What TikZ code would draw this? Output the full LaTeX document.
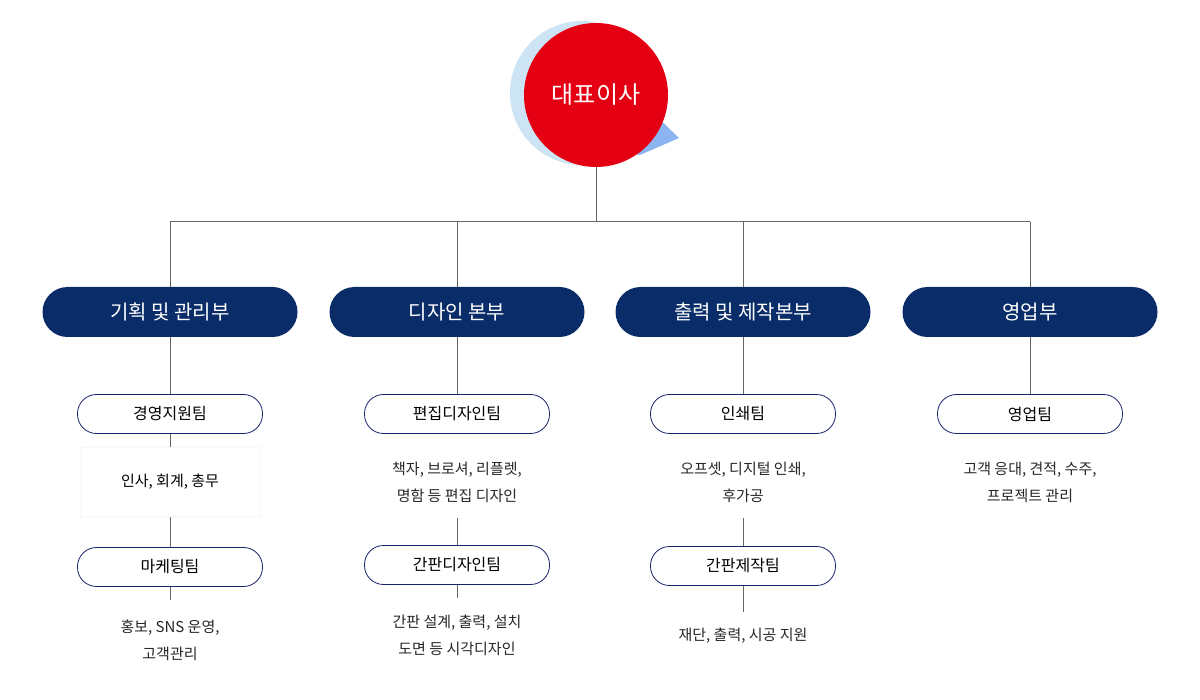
\documentclass[tikz,border=0pt]{standalone}
\usepackage{fontspec}
\setmainfont{Noto Sans CJK KR}
\definecolor{navy}{RGB}{10,45,105}
\definecolor{tnavy}{RGB}{25,35,110}
\definecolor{ceored}{RGB}{228,0,18}
\definecolor{tri}{RGB}{140,180,240}
\definecolor{pale}{RGB}{205,228,245}
\begin{document}
\begin{tikzpicture}[x=1pt,y=-1pt,
  ln/.style={draw=gray!80!black,line width=1pt},
  dept/.style={fill=navy,text=white,rounded corners=25pt,minimum width=255pt,minimum height=50pt,font=\fontsize{20}{24}\selectfont},
  team/.style={draw=tnavy,fill=white,rounded corners=19pt,minimum width=185pt,minimum height=39pt,font=\fontsize{16}{19}\selectfont,line width=0.8pt},
  desc/.style={align=center,font=\fontsize{15}{27}\selectfont,text=black!85},
  box/.style={draw=black!10,fill=white,minimum width=180pt,minimum height=70pt,rounded corners=2pt,font=\fontsize{15}{18}\selectfont}]
\useasboundingbox (0,0) rectangle (1200,700);
% CEO decoration
\fill[pale] (582,93) circle (72);
\fill[tri] (640,155) -- (679,138) -- (650,110) -- (610,150) -- cycle;
\node[circle,fill=ceored,minimum size=144pt,text=white,font=\fontsize{24}{28}\selectfont] (ceo) at (596,95) {대표이사};
\coordinate (h) at (596,222);
\draw[ln] (ceo.south) -- (h);
\foreach \n/\x/\t in {d1/170/기획 및 관리부,d2/457/디자인 본부,d3/743/출력 및 제작본부,d4/1030/영업부}{
  \node[dept] (\n) at (\x,312) {\t};
  \coordinate (\n t) at (\x,222);
  \draw[ln] (\n t) -- (\n.north);
}
\draw[ln] (d1t) -- (d4t);
% column 1
\node[team] (t1) at (170,414) {경영지원팀};
\node[box] (b1) at (170,482) {인사, 회계, 총무};
\node[team] (t2) at (170,567) {마케팅팀};
\node[desc] (x2) at (170,640) {홍보, SNS 운영,\\고객관리};
\draw[ln] (d1.south) -- (t1.north);
\draw[ln] (t1.south) -- (b1.north);
\draw[ln] (b1.south) -- (t2.north);
\draw[ln] (t2.south) -- (170,600);
% column 2
\node[team] (t3) at (457,414) {편집디자인팀};
\node[desc] (x3) at (457,482) {책자, 브로셔, 리플렛,\\명함 등 편집 디자인};
\node[team] (t4) at (457,565) {간판디자인팀};
\node[desc] (x4) at (457,635) {간판 설계, 출력, 설치\\도면 등 시각디자인};
\draw[ln] (d2.south) -- (t3.north);
\draw[ln] (457,518) -- (t4.north);
\draw[ln] (t4.south) -- (457,598);
% column 3
\node[team] (t5) at (743,414) {인쇄팀};
\node[desc] (x5) at (743,482) {오프셋, 디지털 인쇄,\\후가공};
\node[team] (t6) at (743,566) {간판제작팀};
\node[desc] (x6) at (743,636) {재단, 출력, 시공 지원};
\draw[ln] (d3.south) -- (t5.north);
\draw[ln] (743,518) -- (t6.north);
\draw[ln] (t6.south) -- (743,612);
% column 4
\node[team] (t7) at (1030,414) {영업팀};
\node[desc] (x7) at (1030,482) {고객 응대, 견적, 수주,\\프로젝트 관리};
\draw[ln] (d4.south) -- (t7.north);
\end{tikzpicture}
\end{document}
